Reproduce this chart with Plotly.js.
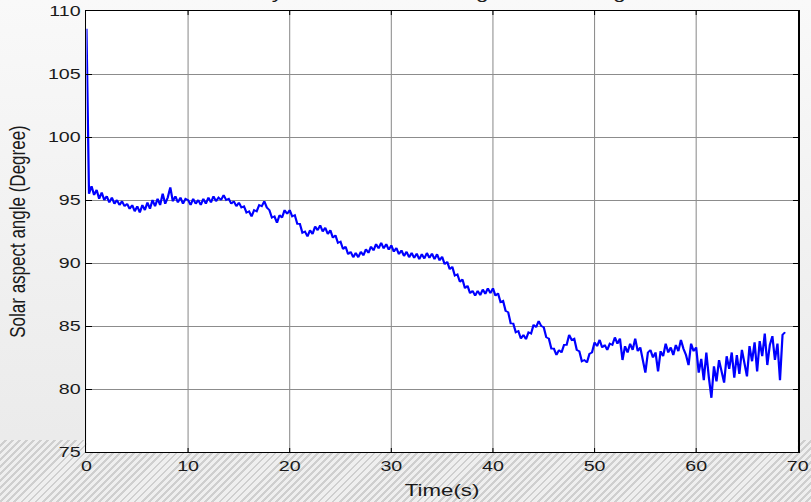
<!DOCTYPE html>
<html><head><meta charset="utf-8">
<script src="https://cdn.plot.ly/plotly-3.0.1.min.js"></script>
<style>
html,body{margin:0;padding:0;}
body{width:811px;height:502px;overflow:hidden;position:relative;
background:linear-gradient(to bottom,#f9f9f9 0%,#f0f0f0 55%,#ebebeb 87%);}
#hatch{position:absolute;left:0;top:440px;width:811px;height:62px;
background:repeating-linear-gradient(135deg,#efefef 0px,#efefef 3px,#cfcfcf 3px,#cfcfcf 5px);}
#chart{position:absolute;left:0;top:0;width:619px;height:502px;transform:scaleX(1.31);transform-origin:0 0;}
</style></head>
<body><div id="hatch"></div><div id="chart"></div>
<script>
// Time axis sampling (s)
const timeStart = 0;
const timeStep = 0.25;
// Solar aspect angle (degree)
const angle = [
 108.6, 95.5, 96.1, 95.4, 95.8, 95.1, 95.6, 95.0,
 95.3, 94.8, 95.2, 94.7, 95.0, 94.6, 94.9, 94.5,
 94.7, 94.3, 94.6, 94.1, 94.5, 94.0, 94.6, 94.2,
 94.8, 94.3, 95.0, 94.5, 95.1, 94.6, 95.5, 94.7,
 95.2, 96.0, 94.9, 95.3, 94.8, 95.2, 94.7, 95.1,
 95.0, 94.6, 95.1, 94.7, 95.0, 94.6, 95.1, 94.7,
 95.2, 94.8, 95.3, 94.9, 95.2, 95.0, 95.4, 95.0,
 95.1, 94.7, 94.9, 94.5, 94.8, 94.4, 94.5, 94.0,
 94.1, 93.7, 94.2, 94.1, 94.6, 94.5, 94.9, 94.4,
 94.2, 93.6, 93.7, 93.2, 93.8, 93.6, 94.2, 93.9,
 94.2, 93.7, 93.8, 93.1, 93.1, 92.4, 92.5, 92.1,
 92.6, 92.3, 92.9, 92.6, 93.0, 92.5, 92.8, 92.3,
 92.6, 92.0, 92.2, 91.6, 91.7, 91.1, 91.3, 90.7,
 90.9, 90.45, 90.8, 90.45, 90.9, 90.6, 91.1, 90.8,
 91.3, 91.0, 91.5, 91.15, 91.6, 91.15, 91.5, 91.05,
 91.4, 90.9, 91.2, 90.7, 91.0, 90.55, 90.9, 90.45,
 90.8, 90.4, 90.75, 90.3, 90.7, 90.35, 90.8, 90.4,
 90.75, 90.3, 90.7, 90.2, 90.5, 89.9, 90.1, 89.5,
 89.7, 89.0, 89.1, 88.5, 88.7, 88.0, 88.2, 87.6,
 87.8, 87.4, 87.8, 87.45, 87.9, 87.55, 88.0, 87.6,
 88.0, 87.4, 87.6, 86.9, 87.0, 86.2, 86.1, 85.2,
 85.2, 84.5, 84.6, 84.0, 84.3, 83.95, 84.5, 84.4,
 85.1, 84.9, 85.4, 85.0, 84.9, 84.1, 84.0, 83.2,
 83.2, 82.7, 83.1, 82.9, 83.5, 83.5, 84.3, 83.9,
 84.0, 83.1, 83.0, 82.2, 82.3, 82.1, 82.8, 82.9,
 83.7, 83.4, 83.9, 83.3, 83.5, 83.1, 83.6, 83.5,
 84.1, 83.6, 84.0, 82.3, 83.4, 82.9, 83.6, 83.1,
 84.0, 83.0, 83.3, 82.4, 81.3, 82.9, 83.1, 82.5,
 82.9, 81.4, 83.0, 82.6, 83.6, 82.9, 83.3, 82.7,
 83.5, 83.0, 83.9, 83.2, 82.7, 81.9, 83.6, 83.0,
 83.3, 81.3, 82.4, 80.7, 82.9, 80.9, 79.3, 81.8,
 80.6, 82.3, 81.5, 80.5, 82.6, 81.6, 82.9, 80.9,
 82.7, 81.2, 83.1, 82.0, 81.0, 83.4, 82.2, 83.7,
 81.4, 83.8, 82.6, 84.4, 81.9, 83.5, 84.2, 82.3,
 83.6, 80.7, 84.3, 84.5
];
const xTicks = [0, 10, 20, 30, 40, 50, 60, 70];
const yTicks = [75, 80, 85, 90, 95, 100, 105, 110];
const titleText = "Time history of the incidence angle on the wing at launch";
const xTitle = "Time(s)";
const yTitle = "Solar aspect angle (Degree)";

const family = "Arial, 'Liberation Sans', sans-serif";
const tickFont = {family: family, size: 15, color: "#1a1a1a"};
const labelFont = {family: family, size: 17, color: "#1a1a1a"};

const trace = {
  type: "scatter", mode: "lines",
  y: angle, x0: timeStart, dx: timeStep,
  line: {color: "#0000ff", width: 1.7},
  hoverinfo: "skip"
};

const axisCommon = {
  showline: true, linecolor: "#000", linewidth: 1.4, mirror: "ticks",
  ticks: "inside", ticklen: 4, tickwidth: 1, tickcolor: "#000",
  showgrid: true, gridcolor: "#8c8c8c", gridwidth: 1,
  zeroline: false, tickfont: tickFont, fixedrange: true
};

const layout = {
  width: 619, height: 502,
  margin: {l: 66, r: 10, t: 11, b: 50},
  paper_bgcolor: "rgba(0,0,0,0)", plot_bgcolor: "#ffffff",
  showlegend: false,
  font: tickFont,
  xaxis: Object.assign({}, axisCommon, {
    range: [0, 70], tickvals: xTicks, ticktext: xTicks.map(String),
    gridwidth: 0.8, tickwidth: 0.8,
    title: {text: xTitle, font: labelFont, standoff: 10}
  }),
  yaxis: Object.assign({}, axisCommon, {
    range: [75, 110], tickvals: yTicks, ticktext: yTicks.map(String),
    title: {text: yTitle, font: labelFont, standoff: 12}
  }),
  annotations: [{
    text: titleText, xref: "paper", yref: "paper", x: 0.5, y: 1,
    xanchor: "center", yanchor: "bottom", yshift: 6, showarrow: false,
    font: labelFont
  }]
};

Plotly.newPlot("chart", [trace], layout, {displayModeBar: false, staticPlot: true});
</script></body></html>
